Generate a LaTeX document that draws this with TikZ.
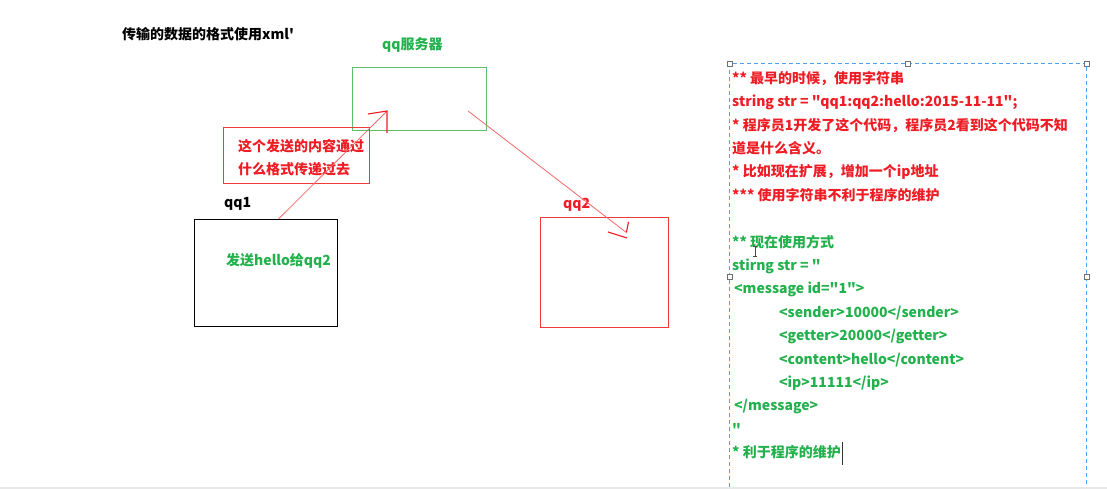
\documentclass[tikz,border=0pt]{standalone}
\usepackage{fontspec}
\newfontfamily\cjkf{Noto Sans CJK SC}[Ligatures={NoCommon}]
\usetikzlibrary{calc}
\definecolor{tred}{HTML}{EE1C24}
\definecolor{tgreen}{HTML}{22B14C}
\definecolor{boxgreen}{HTML}{5CBF6A}
\definecolor{boxred}{HTML}{EE3A3A}
\definecolor{linered}{HTML}{F26A6A}
\definecolor{dashblue}{HTML}{4DA3F0}
\definecolor{handlegray}{HTML}{707070}
\definecolor{bottomgray}{HTML}{E8E8E8}
\tikzset{
  txt/.style={font=\cjkf\bfseries\fontsize{14}{14}\selectfont, inner sep=0pt, anchor=base west},
  boxnode/.style={draw, line width=1.1pt, inner sep=0pt, anchor=north west},
  arrowline/.style={draw=linered, line width=0.8pt},
  headline/.style={draw=tred, line width=1.1pt},
  handle/.style={draw=handlegray, fill=white, line width=0.6pt, minimum size=5pt, inner sep=0pt},
}
\begin{document}
\begin{tikzpicture}[x=1pt,y=-1pt]
\useasboundingbox (0,0) rectangle (1107,489);
\fill[white] (0,0) rectangle (1107,489);
\fill[bottomgray] (0,486.5) rectangle (1107,489);

% title
\node[txt] (title) at (122,40) {传输的数据的格式使用xml'};

% server
\node[txt, text=tgreen] (servertitle) at (382,50) {qq服务器};
\node[boxnode, draw=boxgreen, minimum width=134pt, minimum height=63pt] (server) at (352,67) {};

% message box
\node[boxnode, draw=boxred, line width=1pt, minimum width=146pt, minimum height=56pt] (msgbox) at (223,127) {};
\node[txt, text=tred] (msg1) at (238,151.5) {这个发送的内容通过};
\node[txt, text=tred] (msg2) at (238,175) {什么格式传递过去};

% qq1
\node[txt] (qq1title) at (224,207.5) {qq1};
\node[boxnode, draw=black, line width=1pt, minimum width=143pt, minimum height=107pt] (qq1) at (194,219) {};
\node[txt, text=tgreen] (send) at (226,265) {发送hello给qq2};

% qq2
\node[txt, text=tred] (qq2title) at (563,208) {qq2};
\node[boxnode, draw=boxred, line width=1pt, minimum width=128pt, minimum height=110pt] (qq2) at (540,217) {};

% arrows
\coordinate (a1s) at ($(qq1.north west)!0.587!(qq1.north east)$);
\coordinate (a1e) at (387,111);
\draw[arrowline] (a1s) -- (a1e);
\draw[headline] (368,114) -- (a1e) -- (387,133);

\coordinate (a2s) at (468,111);
\coordinate (a2e) at (627,233);
\draw[arrowline] (a2s) -- (a2e);
\draw[headline] (628.5,222) -- (626.5,232);
\draw[headline] (608,232) -- (627,238);

% dashed panel
\draw[dashblue, line width=0.9pt, dash pattern=on 4pt off 3pt] (729.5,487) -- (729.5,63.5) -- (1086.5,63.5) -- (1086.5,487);
\node[handle] (h1) at (729.5,63.5) {};
\node[handle] (h2) at (908,63.5) {};
\node[handle] (h3) at (1086.5,63.5) {};
\node[handle] (h4) at (729.5,276.7) {};
\node[handle] (h5) at (1086.5,276.7) {};

% red text
\node[txt, text=tred] (l1) at (732,83.3) {** 最早的时候，使用字符串};
\node[txt, text=tred] (l2) at (732,106.7) {string str = "qq1:qq2:hello:2015-11-11";};
\node[txt, text=tred] (l3) at (732,130.1) {* 程序员1开发了这个代码，程序员2看到这个代码不知};
\node[txt, text=tred] (l4) at (732,153.5) {道是什么含义。};
\node[txt, text=tred] (l5) at (732,176.9) {* 比如现在扩展，增加一个ip地址};
\node[txt, text=tred] (l6) at (732,200.3) {*** 使用字符串不利于程序的维护};

% green text
\node[txt, text=tgreen] (g1) at (732,247.1) {** 现在使用方式};
\node[txt, text=tgreen] (g2) at (732,270.5) {stirng str = "};
\node[txt, text=tgreen] (g3) at (734,293.9) {<message id="1">};
\node[txt, text=tgreen] (g4) at (779,317.3) {<sender>10000</sender>};
\node[txt, text=tgreen] (g5) at (779,340.7) {<getter>20000</getter>};
\node[txt, text=tgreen] (g6) at (779,364.1) {<content>hello</content>};
\node[txt, text=tgreen] (g7) at (779,387.5) {<ip>11111</ip>};
\node[txt, text=tgreen] (g8) at (734,410.9) {</message>};
\node[txt, text=tgreen] (g9) at (732,434.3) {"};
\node[txt, text=tgreen] (g10) at (732,457.7) {* 利于程序的维护};

% text cursor
\draw[black!80, line width=0.8pt] (842,442) -- (842,465);
% mouse I-beam
\draw[black!70, line width=0.6pt] (755,246) -- (755,256) (753,246) -- (757,246) (753,256) -- (757,256);
\end{tikzpicture}
\end{document}
